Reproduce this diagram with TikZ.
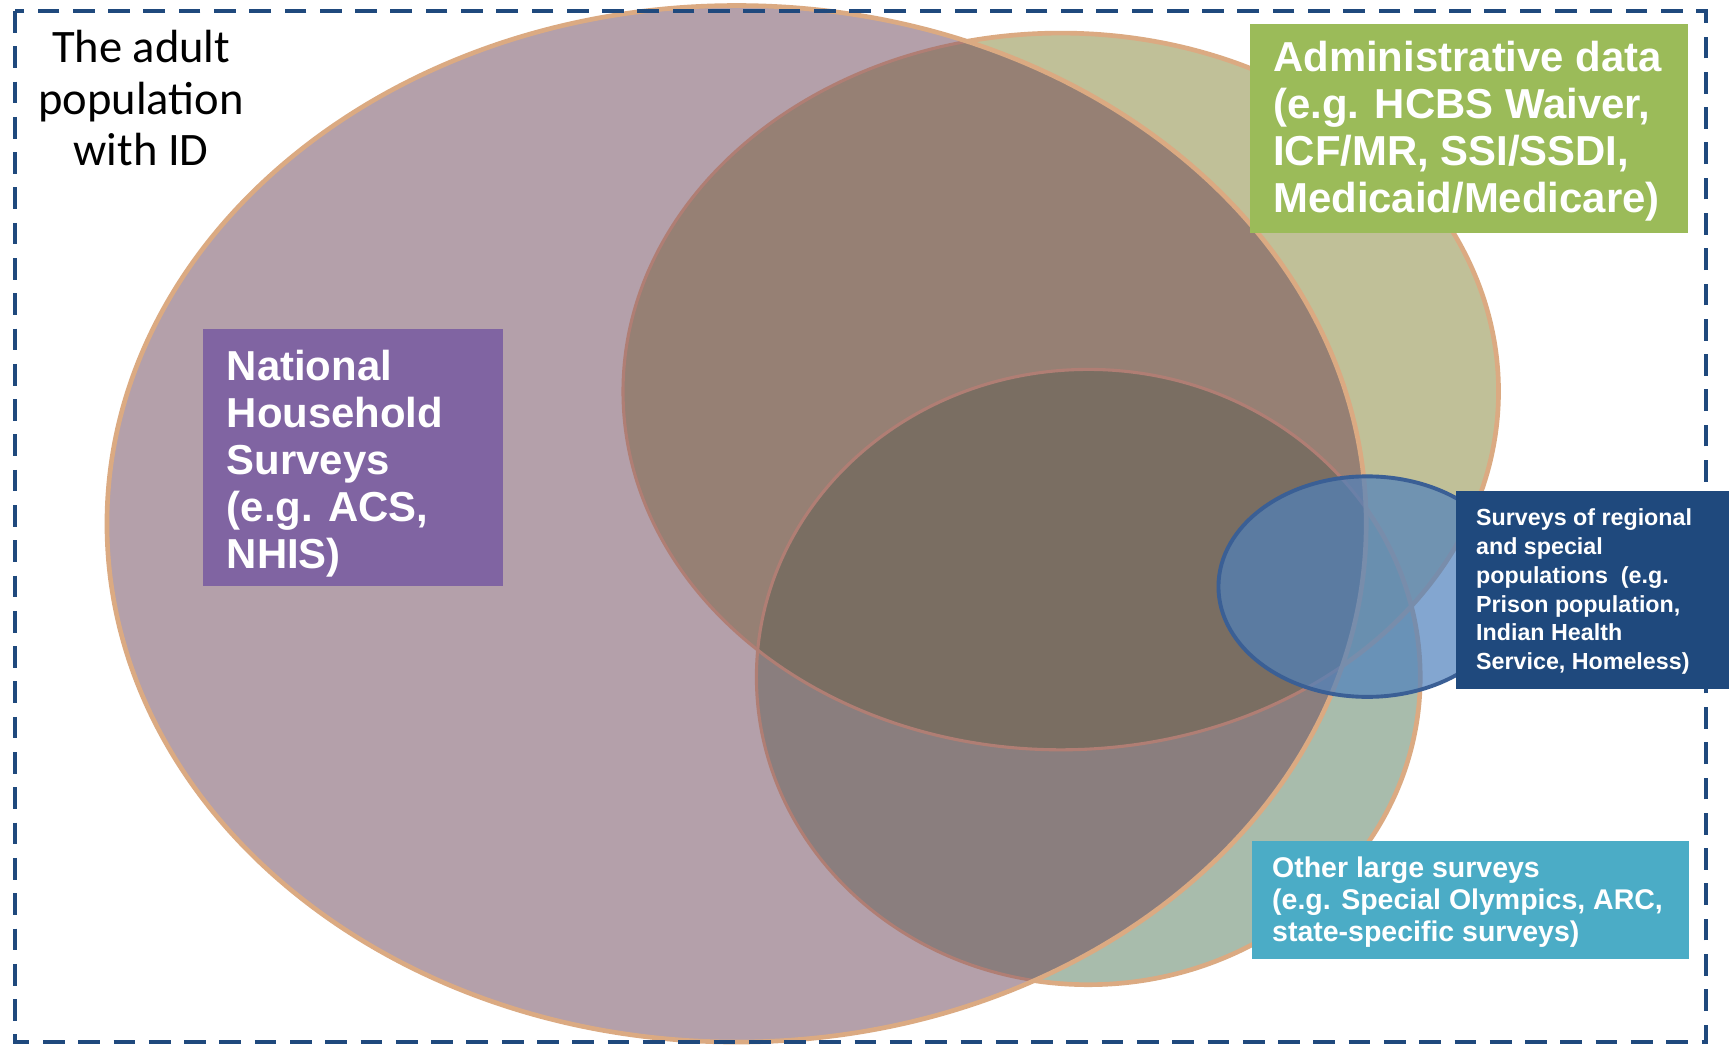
\documentclass[tikz,border=0pt]{standalone}
\usepackage{fontspec}
\setmainfont{Liberation Sans}
\newfontfamily\carl{Carlito}
\newfontfamily\arl{Liberation Sans}
\definecolor{ponly}{HTML}{B4A0AA}
\definecolor{aonly}{HTML}{C0C098}
\definecolor{oonly}{HTML}{A8BCAC}
\definecolor{pacol}{HTML}{968074}
\definecolor{pocol}{HTML}{8A7E7E}
\definecolor{paocol}{HTML}{7A6E62}
\definecolor{aocol}{HTML}{A9B28F}
\definecolor{tanc}{HTML}{DBAA82}
\definecolor{redc}{HTML}{B07E74}
\definecolor{bluefill}{HTML}{4F81BD}
\definecolor{blueline}{HTML}{3A5F95}
\definecolor{framec}{HTML}{1F497D}
\definecolor{purpbox}{HTML}{8064A2}
\definecolor{greenbox}{HTML}{9BBB59}
\definecolor{navybox}{HTML}{1F497D}
\definecolor{tealbox}{HTML}{4BACC6}
\tikzset{
  tanline/.style={draw=tanc, line width=1.2pt},
  redline/.style={draw=redc, line width=0.8pt},
  frameline/.style={draw=framec, line width=1pt, dash pattern=on 5.6pt off 3.5pt},
  bigtxt/.style={anchor=base west, inner sep=0pt, text=white, font=\arl\bfseries\fontsize{10.8}{12.1}\selectfont},
  bluetxt/.style={anchor=base west, inner sep=0pt, text=white, font=\arl\bfseries\fontsize{6.0}{7.4}\selectfont},
  tealtxt/.style={anchor=base west, inner sep=0pt, text=white, font=\arl\bfseries\fontsize{7.35}{8.25}\selectfont},
  poptxt/.style={anchor=base, inner sep=0pt, text=black, font=\carl\fontsize{12}{13.2}\selectfont}
}
\begin{document}
\begin{tikzpicture}[x=0.01cm,y=0.01cm]
\useasboundingbox (0,0) rectangle (1568,-948);
\fill[white] (0,0) rectangle (1568,-948);
% region fills
\fill[aonly] (962,-355) ellipse [x radius=397, y radius=325];
\fill[oonly] (987,-614) ellipse [x radius=301, y radius=279];
\begin{scope}
  \clip (962,-355) ellipse [x radius=397, y radius=325];
  \fill[aocol] (987,-614) ellipse [x radius=301, y radius=279];
\end{scope}
\fill[ponly] (668,-475) ellipse [x radius=571, y radius=470];
\begin{scope}
  \clip (668,-475) ellipse [x radius=571, y radius=470];
  \fill[pacol] (962,-355) ellipse [x radius=397, y radius=325];
  \fill[pocol] (987,-614) ellipse [x radius=301, y radius=279];
  \clip (962,-355) ellipse [x radius=397, y radius=325];
  \fill[paocol] (987,-614) ellipse [x radius=301, y radius=279];
\end{scope}
% outlines: bright outside the large ellipse, tinted inside it
\begin{scope}[even odd rule]
  \clip (-10,10) rectangle (1600,-960) (668,-475) ellipse [x radius=571, y radius=470];
  \draw[tanline] (962,-355) ellipse [x radius=397, y radius=325];
  \draw[tanline] (987,-614) ellipse [x radius=301, y radius=279];
\end{scope}
\begin{scope}
  \clip (668,-475) ellipse [x radius=571, y radius=470];
  \draw[redline] (962,-355) ellipse [x radius=397, y radius=325];
  \draw[redline] (987,-614) ellipse [x radius=301, y radius=279];
\end{scope}
\draw[tanline] (668,-475) ellipse [x radius=571, y radius=470];
% frame
\draw[frameline] (14,-10) rectangle (1547,-945);
% small blue ellipse
\fill[bluefill, opacity=0.7] (1240,-532) ellipse [x radius=135, y radius=100];
\draw[blueline, line width=1pt] (1240,-532) ellipse [x radius=135, y radius=100];
% boxes
\fill[purpbox] (184,-298) rectangle (456,-531);
\fill[greenbox] (1134,-22) rectangle (1531,-211);
\fill[navybox] (1320,-445) rectangle (1568,-625);
\fill[tealbox] (1135,-763) rectangle (1532,-870);
% texts
\node[poptxt] (pop) at (128,-57) {\begin{tabular}[t]{@{}c@{}}The adult\\population\\with ID\end{tabular}};
\node[bigtxt] (nhs) at (205,-345) {\begin{tabular}[t]{@{}l@{}}National\\Household\\Surveys\\(e.g. ACS,\\NHIS)\end{tabular}};
\node[bigtxt] (adm) at (1154,-65) {\begin{tabular}[t]{@{}l@{}}Administrative data\\(e.g. HCBS Waiver,\\ICF/MR, SSI/SSDI,\\Medicaid/Medicare)\end{tabular}};
\node[bluetxt] (reg) at (1338,-477) {\begin{tabular}[t]{@{}l@{}}Surveys of regional\\and special\\populations\ \ (e.g.\\Prison population,\\Indian Health\\Service, Homeless)\end{tabular}};
\node[tealtxt] (oth) at (1153,-796) {\begin{tabular}[t]{@{}l@{}}Other large surveys\\(e.g. Special Olympics, ARC,\\state-specific surveys)\end{tabular}};
\end{tikzpicture}
\end{document}
